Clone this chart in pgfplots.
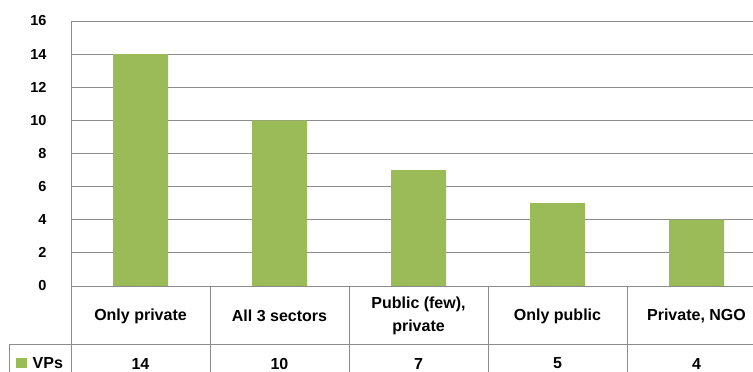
\documentclass[border=0pt]{standalone}
\usepackage{pgfplots}
\pgfplotsset{compat=1.18}
\usepackage{fontspec}
\setmainfont{Liberation Sans}
\definecolor{barg}{HTML}{9BBB59}
\definecolor{gridg}{HTML}{8C8C8C}
\begin{document}
\begin{tikzpicture}[x=1pt,y=1pt]
\useasboundingbox (0,0) rectangle (753,372);
\clip (0,0) rectangle (753,372);
\begin{axis}[
  at={(71pt,86pt)}, anchor=south west,
  scale only axis, width=695pt, height=265pt,
  xmin=-0.5, xmax=4.5, ymin=0, ymax=16,
  ytick={0,2,...,16},
  xtick={0,1,2,3,4},
  xticklabels={Only private,All 3 sectors,{Public (few),\\[5pt]private},Only public,{Private, NGO}},
  xticklabel style={font=\fontsize{16}{18}\selectfont\bfseries, align=center, anchor=center, yshift=-30pt},
  yticklabel style={font=\fontsize{14.5}{17}\selectfont\bfseries, anchor=east, xshift=-21pt},
  /pgf/number format/assume math mode=true,
  major tick length=0pt,
  ymajorgrids, grid style={gridg, line width=0.8pt},
  axis line style={draw=none},
  clip=false,
]
\addplot[ybar, bar width=55pt, fill=barg, draw=none] coordinates {(0,14) (1,10) (2,7) (3,5) (4,4)};
\addplot[draw=none, nodes near coords, point meta=explicit symbolic,
  every node near coord/.append style={font=\fontsize{16}{18}\selectfont\bfseries, anchor=center, inner sep=0pt}]
  coordinates {(0,-4.68) [14] (1,-4.68) [10] (2,-4.68) [7] (3,-4.68) [5] (4,-4.68) [4]};
% table grid
\draw[gridg, line width=0.9pt] (axis cs:-0.5,16) -- (axis cs:-0.5,-6);
\draw[gridg, line width=0.9pt] (axis cs:-0.5,0) -- (axis cs:4.6,0);
\pgfplotsinvokeforeach{0.5,1.5,2.5,3.5,4.5}{
  \draw[gridg, line width=0.9pt] (axis cs:#1,0) -- (axis cs:#1,-6);
}
\draw[gridg, line width=0.9pt] (axis cs:-0.946,-3.5) -- (axis cs:4.6,-3.5);
\draw[gridg, line width=0.9pt] (axis cs:-0.946,-3.5) -- (axis cs:-0.946,-6);
\fill[barg] (axis cs:-0.897,-4.32) rectangle (axis cs:-0.818,-4.98);
\node[anchor=west, inner sep=0pt, font=\fontsize{16}{18}\selectfont\bfseries] at (axis cs:-0.777,-4.66) {VPs};
\end{axis}
\end{tikzpicture}
\end{document}
